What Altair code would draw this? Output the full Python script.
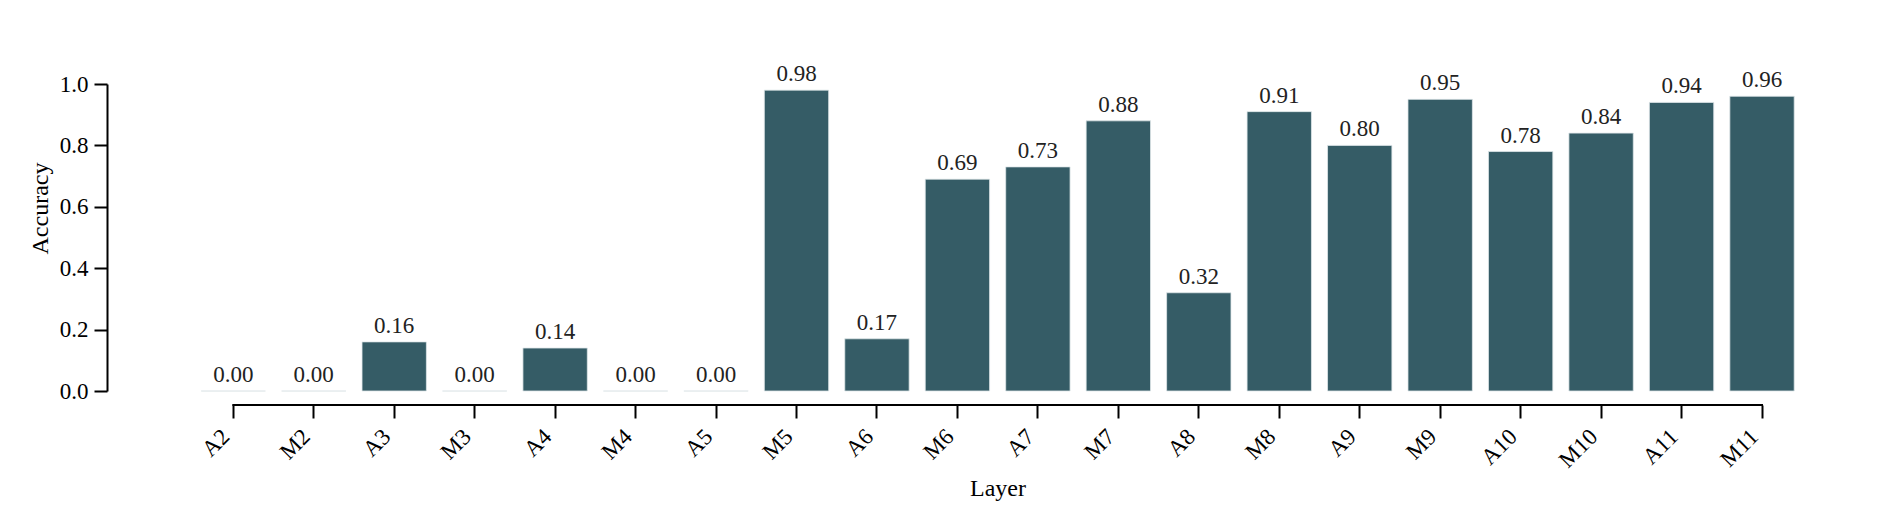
import altair as alt
import pandas as pd

layers = ["A2", "M2", "A3", "M3", "A4", "M4", "A5", "M5", "A6", "M6",
          "A7", "M7", "A8", "M8", "A9", "M9", "A10", "M10", "A11", "M11"]
accuracy = [0.00, 0.00, 0.16, 0.00, 0.14, 0.00, 0.00, 0.98, 0.17, 0.69,
            0.73, 0.88, 0.32, 0.91, 0.80, 0.95, 0.78, 0.84, 0.94, 0.96]
y_ticks = [0.0, 0.2, 0.4, 0.6, 0.8, 1.0]

df = pd.DataFrame({"Layer": layers, "Accuracy": accuracy})
span = pd.DataFrame({"start": [layers[0]], "end": [layers[-1]]})

FONT = "Liberation Serif"
BAR = "#355c66"

xscale = alt.Scale(domain=layers, range=[94.1, 1687.2], paddingInner=0.2, paddingOuter=0)
yscale = alt.Scale(domain=[0, 1], nice=False, zero=True)

x_axis = alt.Axis(
    title="Layer", labelAngle=-45, labelAlign="right", labelBaseline="top",
    labelFont=FONT, labelFontSize=23, labelColor="black", labelPadding=7,
    labelOffset=-15,
    titleFont=FONT, titleFontSize=24, titleFontWeight="normal", titleColor="black",
    titleX=890.5, titleY=90, titleBaseline="alphabetic", titleAlign="center",
    domain=False, ticks=True, tickSize=13, tickWidth=2, tickColor="black",
    offset=14, grid=False, labelOverlap=False,
)
y_axis = alt.Axis(
    title="Accuracy", values=y_ticks, format=".1f",
    labelFont=FONT, labelFontSize=23, labelColor="black", labelPadding=6,
    titleFont=FONT, titleFontSize=24, titleFontWeight="normal", titleColor="black",
    titleX=-67, titleY=124, titleAngle=270, titleAlign="center", titleBaseline="middle",
    domain=True, domainColor="black", domainWidth=2,
    ticks=True, tickSize=13, tickWidth=2, tickColor="black", grid=False,
)

bars = alt.Chart(df).mark_bar(color=BAR, stroke="#dfe7ea", strokeWidth=0.8).encode(
    x=alt.X("Layer:N", scale=xscale, sort=layers, axis=x_axis),
    y=alt.Y("Accuracy:Q", scale=yscale, axis=y_axis),
)

labels = alt.Chart(df).mark_text(
    dy=-9, baseline="alphabetic", align="center", font=FONT, fontSize=23, color="#222222"
).encode(
    x=alt.X("Layer:N", scale=xscale, sort=layers),
    y=alt.Y("Accuracy:Q", scale=yscale),
    text=alt.Text("Accuracy:Q", format=".2f"),
)

xline = alt.Chart(span).mark_rule(color="black", strokeWidth=2, strokeCap="square").encode(
    x=alt.X("start:N", scale=xscale),
    x2="end:N",
    y=alt.value(321),
)

chart = alt.layer(bars, labels, xline).properties(
    width=1700, height=307,
    autosize=alt.AutoSizeParams(type="none"),
    padding={"left": 99, "top": 76, "right": 80, "bottom": 125},
).configure(background="white").configure_view(stroke=None, strokeWidth=0)

chart.save("out.html", embed_options={"renderer": "svg", "actions": False})
